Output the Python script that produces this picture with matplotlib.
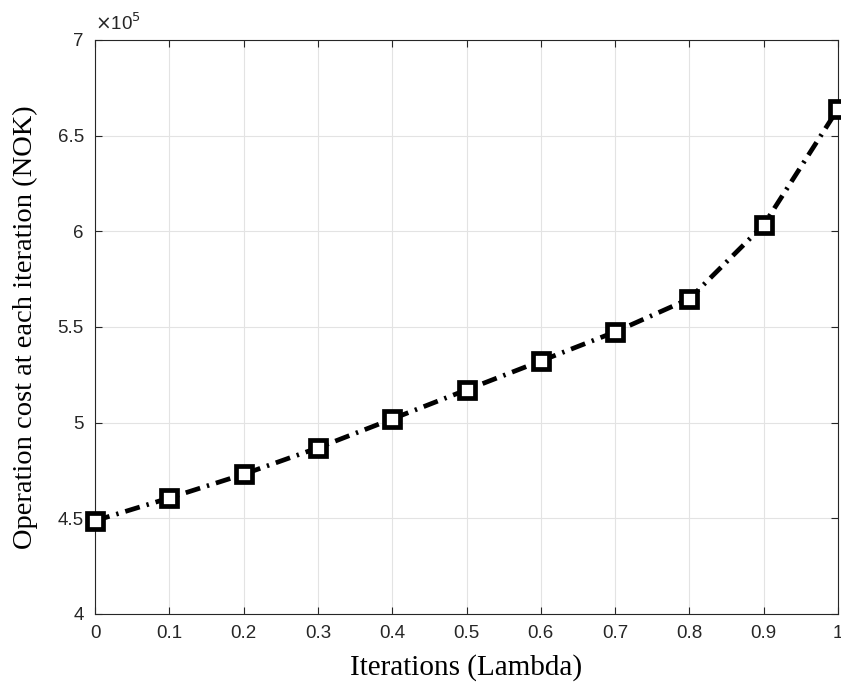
import matplotlib
matplotlib.use("Agg")
import matplotlib.pyplot as plt

lam = [0, 0.1, 0.2, 0.3, 0.4, 0.5, 0.6, 0.7, 0.8, 0.9, 1.0]
cost = [4.487e5, 4.606e5, 4.73e5, 4.868e5, 5.019e5, 5.171e5, 5.322e5, 5.474e5, 5.647e5, 6.033e5, 6.64e5]

xticks = [0, 0.1, 0.2, 0.3, 0.4, 0.5, 0.6, 0.7, 0.8, 0.9, 1]
xticklabels = ["0", "0.1", "0.2", "0.3", "0.4", "0.5", "0.6", "0.7", "0.8", "0.9", "1"]
yticks = [4e5, 4.5e5, 5e5, 5.5e5, 6e5, 6.5e5, 7e5]
yticklabels = ["4", "4.5", "5", "5.5", "6", "6.5", "7"]

fig = plt.figure(figsize=(8.41, 6.89), dpi=100)
ax = fig.add_axes([0.113, 0.109, 0.8834, 0.833])

ax.plot(lam, cost, color="black", linewidth=3.4, dashes=(3.2, 1.5, 0.5, 1.5),
        marker="s", markersize=12, markerfacecolor="white",
        markeredgecolor="black", markeredgewidth=3.4, clip_on=False, zorder=3)

ax.set_xlim(0, 1)
ax.set_ylim(4e5, 7e5)
ax.set_xticks(xticks)
ax.set_xticklabels(xticklabels)
ax.set_yticks(yticks)
ax.set_yticklabels(yticklabels)

ax.grid(True, color="#e3e3e3", linewidth=0.8)
ax.set_axisbelow(True)
ax.tick_params(direction="in", length=5, width=0.8, colors="#262626",
               labelsize=13.5, top=True, right=True, pad=8)
for lab in ax.get_xticklabels() + ax.get_yticklabels():
    lab.set_fontfamily("Liberation Sans")
for s in ax.spines.values():
    s.set_color("#262626")
    s.set_linewidth(0.8)

ax.text(0.0, 1.01, r"$\times$10$^5$", transform=ax.transAxes, fontsize=13.5,
        color="#262626", family="Liberation Sans", va="bottom", ha="left")

ax.set_xlabel("Iterations (Lambda)", fontfamily="Liberation Serif", fontsize=21, labelpad=9)
ax.set_ylabel("Operation cost at each iteration (NOK)", fontfamily="Liberation Serif",
              fontsize=20.5, labelpad=14)

fig.savefig("out.png", dpi=100)
